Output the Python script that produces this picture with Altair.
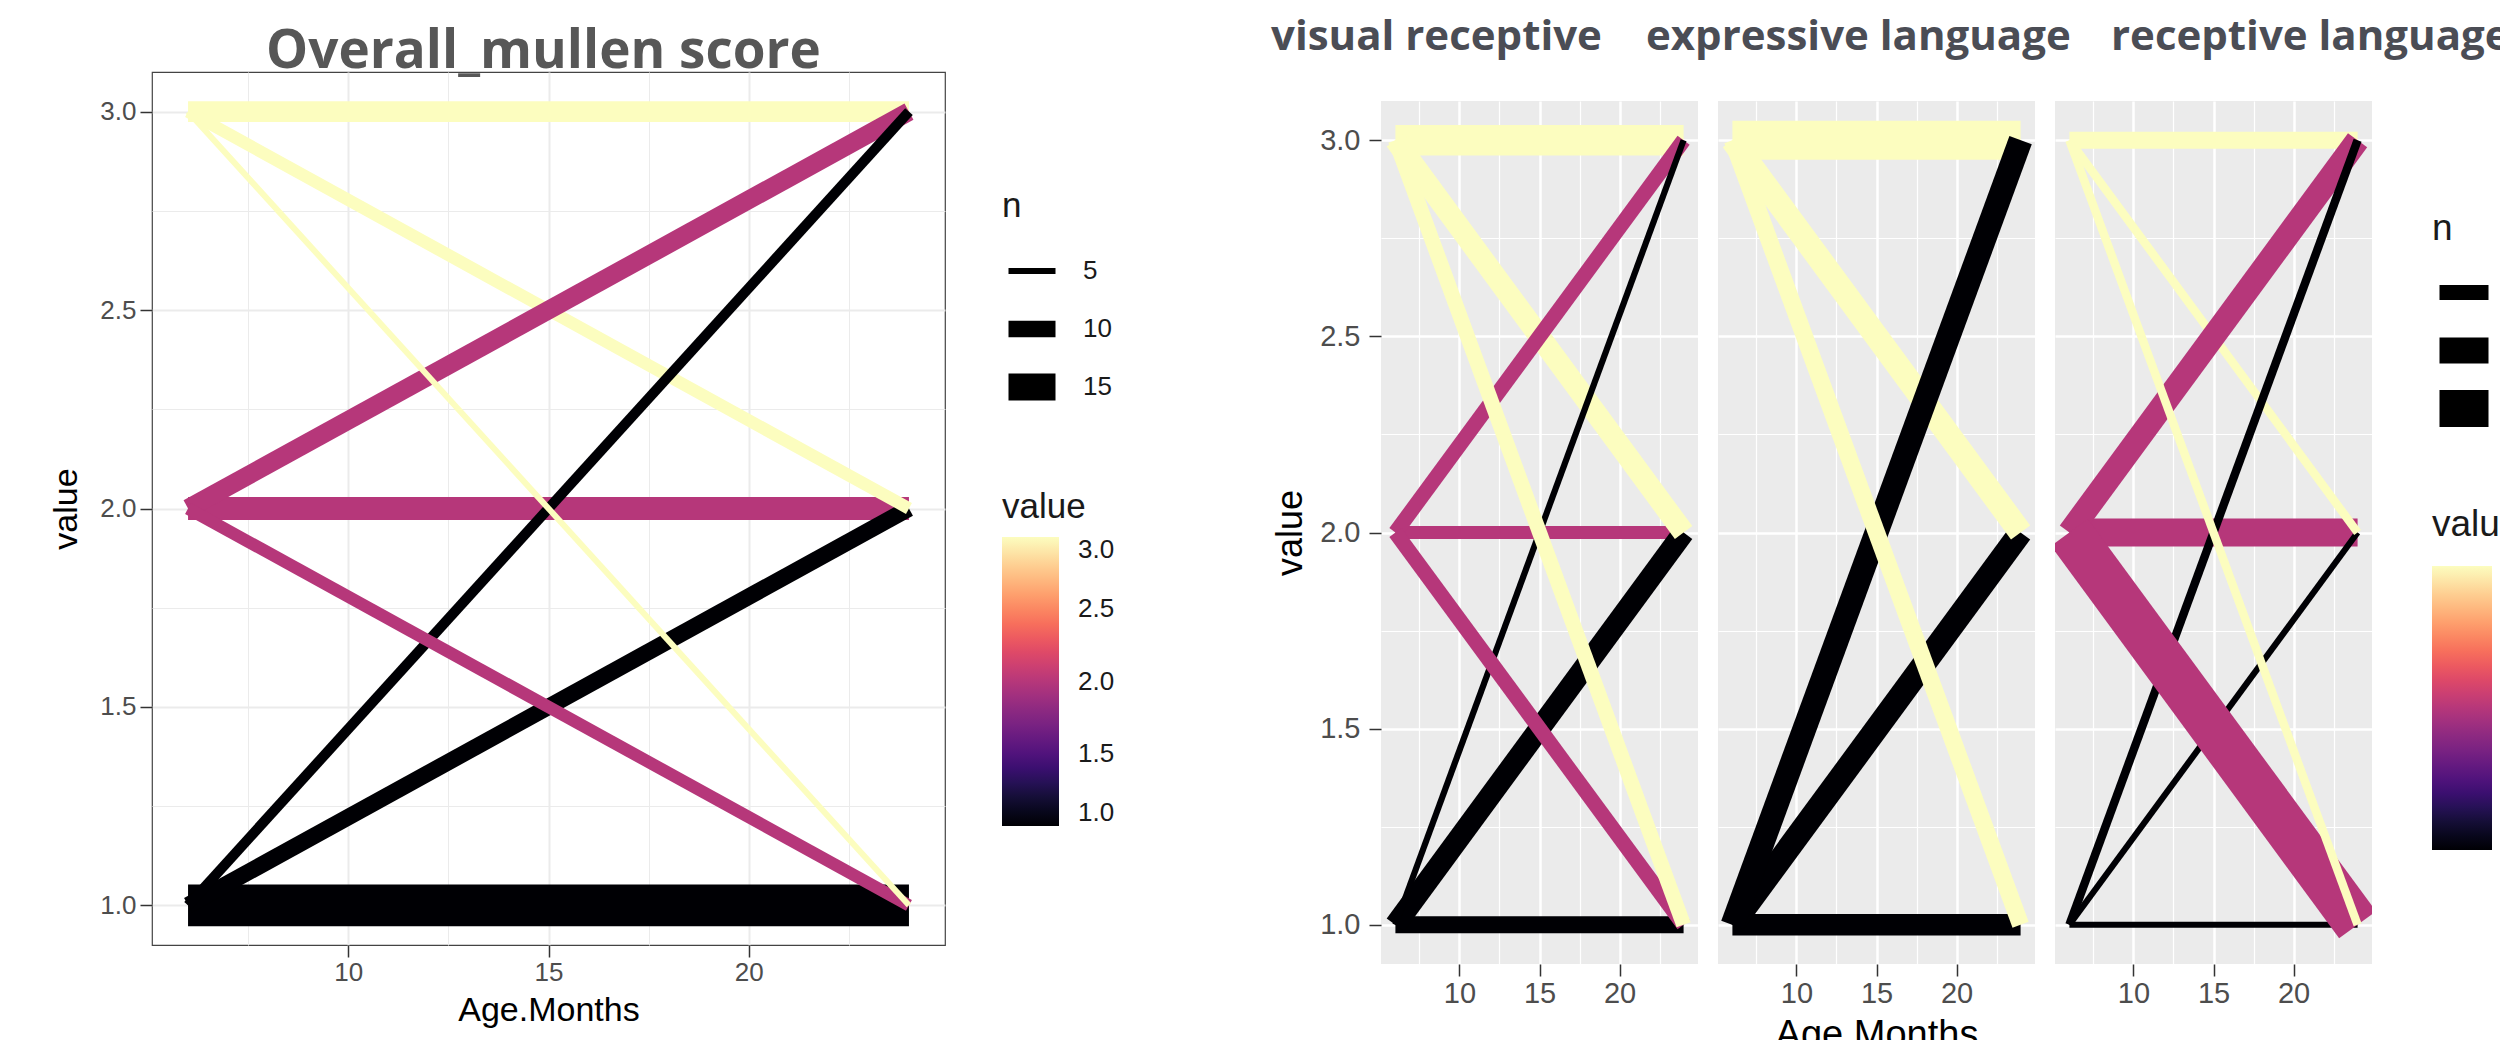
import altair as alt
import pandas as pd

# ---------------- data ----------------
ages = [6, 24]
# transitions drawn in this order: start value (6 months) -> end value (24 months)
start_vals = [1, 2, 3, 1, 3, 2, 1, 2, 3]
end_vals = [1, 2, 3, 2, 2, 3, 3, 1, 1]

overall_n = [22, 13, 12, 10, 8, 11, 7, 8, 5]
visual_n = [6, 4, 12, 8, 8, 5, 1, 5, 5]
expressive_n = [8, 0, 16, 9, 9, 0, 9, 0, 6]
receptive_n = [1, 11, 6, 1, 2, 9, 2, 19, 2]

facet_titles = ["visual receptive", "expressive language", "receptive language"]
main_title = "Overall_mullen score"
x_ticks = [7.5, 10, 12.5, 15, 17.5, 20, 22.5]
y_ticks = [1.0, 1.25, 1.5, 1.75, 2.0, 2.25, 2.5, 2.75, 3.0]
n_legend_values = [5, 10, 15]
value_legend_values = [1.0, 1.5, 2.0, 2.5, 3.0]


def build(ns, panel):
    rows = []
    for i, (s, e, n) in enumerate(zip(start_vals, end_vals, ns)):
        if n <= 0:
            continue
        seg = f"{panel}-{i:02d}"
        rows.append({"seg": seg, "age": ages[0], "value": s, "start": s, "n": n})
        rows.append({"seg": seg, "age": ages[1], "value": e, "start": s, "n": n})
    return pd.DataFrame(rows)


AXIS_FONT = "Liberation Sans"
major_x = "datum.value % 5 === 0"
major_y = "(datum.value * 4) % 2 === 0"


def x_axis(grid_color, wmaj, wmin, label_size, title_size, label_pad, show_title=True):
    return alt.Axis(
        title="Age.Months" if show_title else None,
        values=x_ticks,
        labelExpr=f"{major_x} ? datum.label : ''",
        grid=True,
        gridColor=grid_color,
        gridWidth={"condition": {"test": major_x, "value": wmaj}, "value": wmin},
        tickOpacity={"condition": {"test": major_x, "value": 1}, "value": 0},
        tickColor="#333333",
        tickSize=12,
        tickWidth=1.5,
        domain=False,
        labelFont=AXIS_FONT,
        labelFontSize=label_size,
        labelColor="#4D4D4D",
        labelPadding=label_pad,
        labelOverlap=False,
        titleFont=AXIS_FONT,
        titleFontSize=title_size,
        titleFontWeight="normal",
        titleColor="black",
        titlePadding=8,
    )


def y_axis(grid_color, wmaj, wmin, label_size, title_size, label_pad, title_pad, show=True):
    return alt.Axis(
        title="value" if show else None,
        values=y_ticks,
        format=".1f",
        labelExpr=f"{major_y} ? datum.label : ''",
        labels=show,
        ticks=show,
        grid=True,
        gridColor=grid_color,
        gridWidth={"condition": {"test": major_y, "value": wmaj}, "value": wmin},
        tickOpacity={"condition": {"test": major_y, "value": 1}, "value": 0},
        tickColor="#333333",
        tickSize=12,
        tickWidth=1.5,
        domain=False,
        labelFont=AXIS_FONT,
        labelFontSize=label_size,
        labelColor="#4D4D4D",
        labelPadding=label_pad,
        labelOverlap=False,
        titleFont=AXIS_FONT,
        titleFontSize=title_size,
        titleFontWeight="normal",
        titleColor="black",
        titlePadding=title_pad,
    )


xscale = alt.Scale(domain=[5.1, 24.9], nice=False, zero=False)
yscale = alt.Scale(domain=[0.9, 3.1], nice=False, zero=False)


def color_enc(legend):
    return alt.Color("start:Q", scale=alt.Scale(scheme="magma", domain=[1, 3]), legend=legend)


# ---------------- left: overall ----------------
left_color_legend = alt.Legend(
    title="value", orient="none", legendX=850, legendY=418, direction="vertical",
    gradientLength=289, gradientThickness=57, gradientStrokeWidth=0,
    values=value_legend_values, format=".1f", labelBaseline="middle",
    labelFont=AXIS_FONT, labelFontSize=26, labelColor="#1A1A1A", labelOffset=19,
    titleFont=AXIS_FONT, titleFontSize=35, titleFontWeight="normal", titleColor="#1A1A1A",
    titlePadding=12,
)
left_n_legend = alt.Legend(
    title="n", orient="none", legendX=850, legendY=117, values=n_legend_values,
    symbolType="stroke", symbolSize=2209, symbolStrokeColor="black", symbolOffset=-7,
    labelFont=AXIS_FONT, labelFontSize=26, labelColor="#1A1A1A", labelOffset=14,
    titleFont=AXIS_FONT, titleFontSize=35, titleFontWeight="normal", titleColor="#1A1A1A",
    titlePadding=27, clipHeight=40, rowPadding=18,
)

left = alt.Chart(build(overall_n, "o")).mark_line(strokeCap="butt", strokeJoin="bevel", clip=True).encode(
    x=alt.X("age:Q", scale=xscale, axis=x_axis("#EBEBEB", 2, 1, 26, 34, 2)),
    y=alt.Y("value:Q", scale=yscale, axis=y_axis("#EBEBEB", 2, 1, 26, 34, 4, 16)),
    color=color_enc(left_color_legend),
    strokeWidth=alt.StrokeWidth("n:Q", scale=alt.Scale(domain=[5, 15], range=[6, 27]), legend=left_n_legend),
    detail="seg:N",
).properties(
    width=793, height=873,
    title=alt.TitleParams(main_title, font="Open Sans", fontSize=53, fontWeight="bold",
                          color="#575757", anchor="middle", frame="group", baseline="alphabetic",
                          offset=-49, dx=-5),
    view=alt.ViewBackground(fill="white", stroke="#444444", strokeWidth=1.2),
)

# ---------------- right: three facets ----------------
right_color_legend = alt.Legend(
    title="value", orient="none", legendX=1051, legendY=435, direction="vertical",
    gradientLength=284, gradientThickness=60, gradientStrokeWidth=0,
    values=value_legend_values, format=".1f", labelBaseline="middle",
    labelFont=AXIS_FONT, labelFontSize=29, labelColor="#1A1A1A", labelOffset=19,
    titleFont=AXIS_FONT, titleFontSize=37, titleFontWeight="normal", titleColor="#1A1A1A",
    titlePadding=22,
)
right_n_legend = alt.Legend(
    title="n", orient="none", legendX=1051, legendY=139, values=n_legend_values,
    symbolType="stroke", symbolSize=2401, symbolStrokeColor="black", symbolOffset=-11,
    labelFont=AXIS_FONT, labelFontSize=29, labelColor="#1A1A1A", labelOffset=20,
    titleFont=AXIS_FONT, titleFontSize=37, titleFontWeight="normal", titleColor="#1A1A1A",
    titlePadding=22, clipHeight=45, rowPadding=13,
)

panel_ns = [visual_n, expressive_n, receptive_n]
title_dx = [-110, -72, 56]
panels = []
for k, (ns, ttl, dx) in enumerate(zip(panel_ns, facet_titles, title_dx)):
    first = k == 0
    p = alt.Chart(build(ns, f"f{k}")).mark_line(strokeCap="butt", strokeJoin="bevel", clip=True).encode(
        x=alt.X("age:Q", scale=xscale, axis=x_axis("white", 2.5, 1.2, 29, 38, 3, show_title=(k == 1))),
        y=alt.Y("value:Q", scale=yscale, axis=y_axis("white", 2.5, 1.2, 29, 36, 9, 10, show=first)),
        color=color_enc(right_color_legend),
        strokeWidth=alt.StrokeWidth("n:Q", scale=alt.Scale(domain=[5, 15], range=[15, 37]), legend=right_n_legend),
        detail="seg:N",
    ).properties(
        width=317, height=863,
        title=alt.TitleParams(ttl, font="Open Sans", fontSize=42, fontWeight="bold",
                              color="#4B4D55", anchor="start", frame="group", baseline="alphabetic",
                              offset=9, dx=dx),
        view=alt.ViewBackground(fill="#EBEBEB", stroke=None),
    )
    panels.append(p)

panel_row = alt.hconcat(*panels, spacing=20, bounds="flush")

spacer = alt.Chart(pd.DataFrame({"s": [0]})).mark_point(opacity=0).encode(
    x=alt.value(0), y=alt.value(0)
).properties(width=317, height=29, view=alt.ViewBackground(fill=None, stroke=None))

right = alt.vconcat(spacer, panel_row, spacing=0, bounds="flush")

chart = alt.hconcat(left, right, spacing=436, bounds="flush").resolve_scale(
    color="independent", strokeWidth="independent"
).resolve_legend(
    color="independent", strokeWidth="independent"
).properties(
    padding={"left": 41, "top": 8, "right": -60, "bottom": 0}
).configure_view(stroke=None)

chart.save("out.html", embed_options={"renderer": "svg", "actions": False})
